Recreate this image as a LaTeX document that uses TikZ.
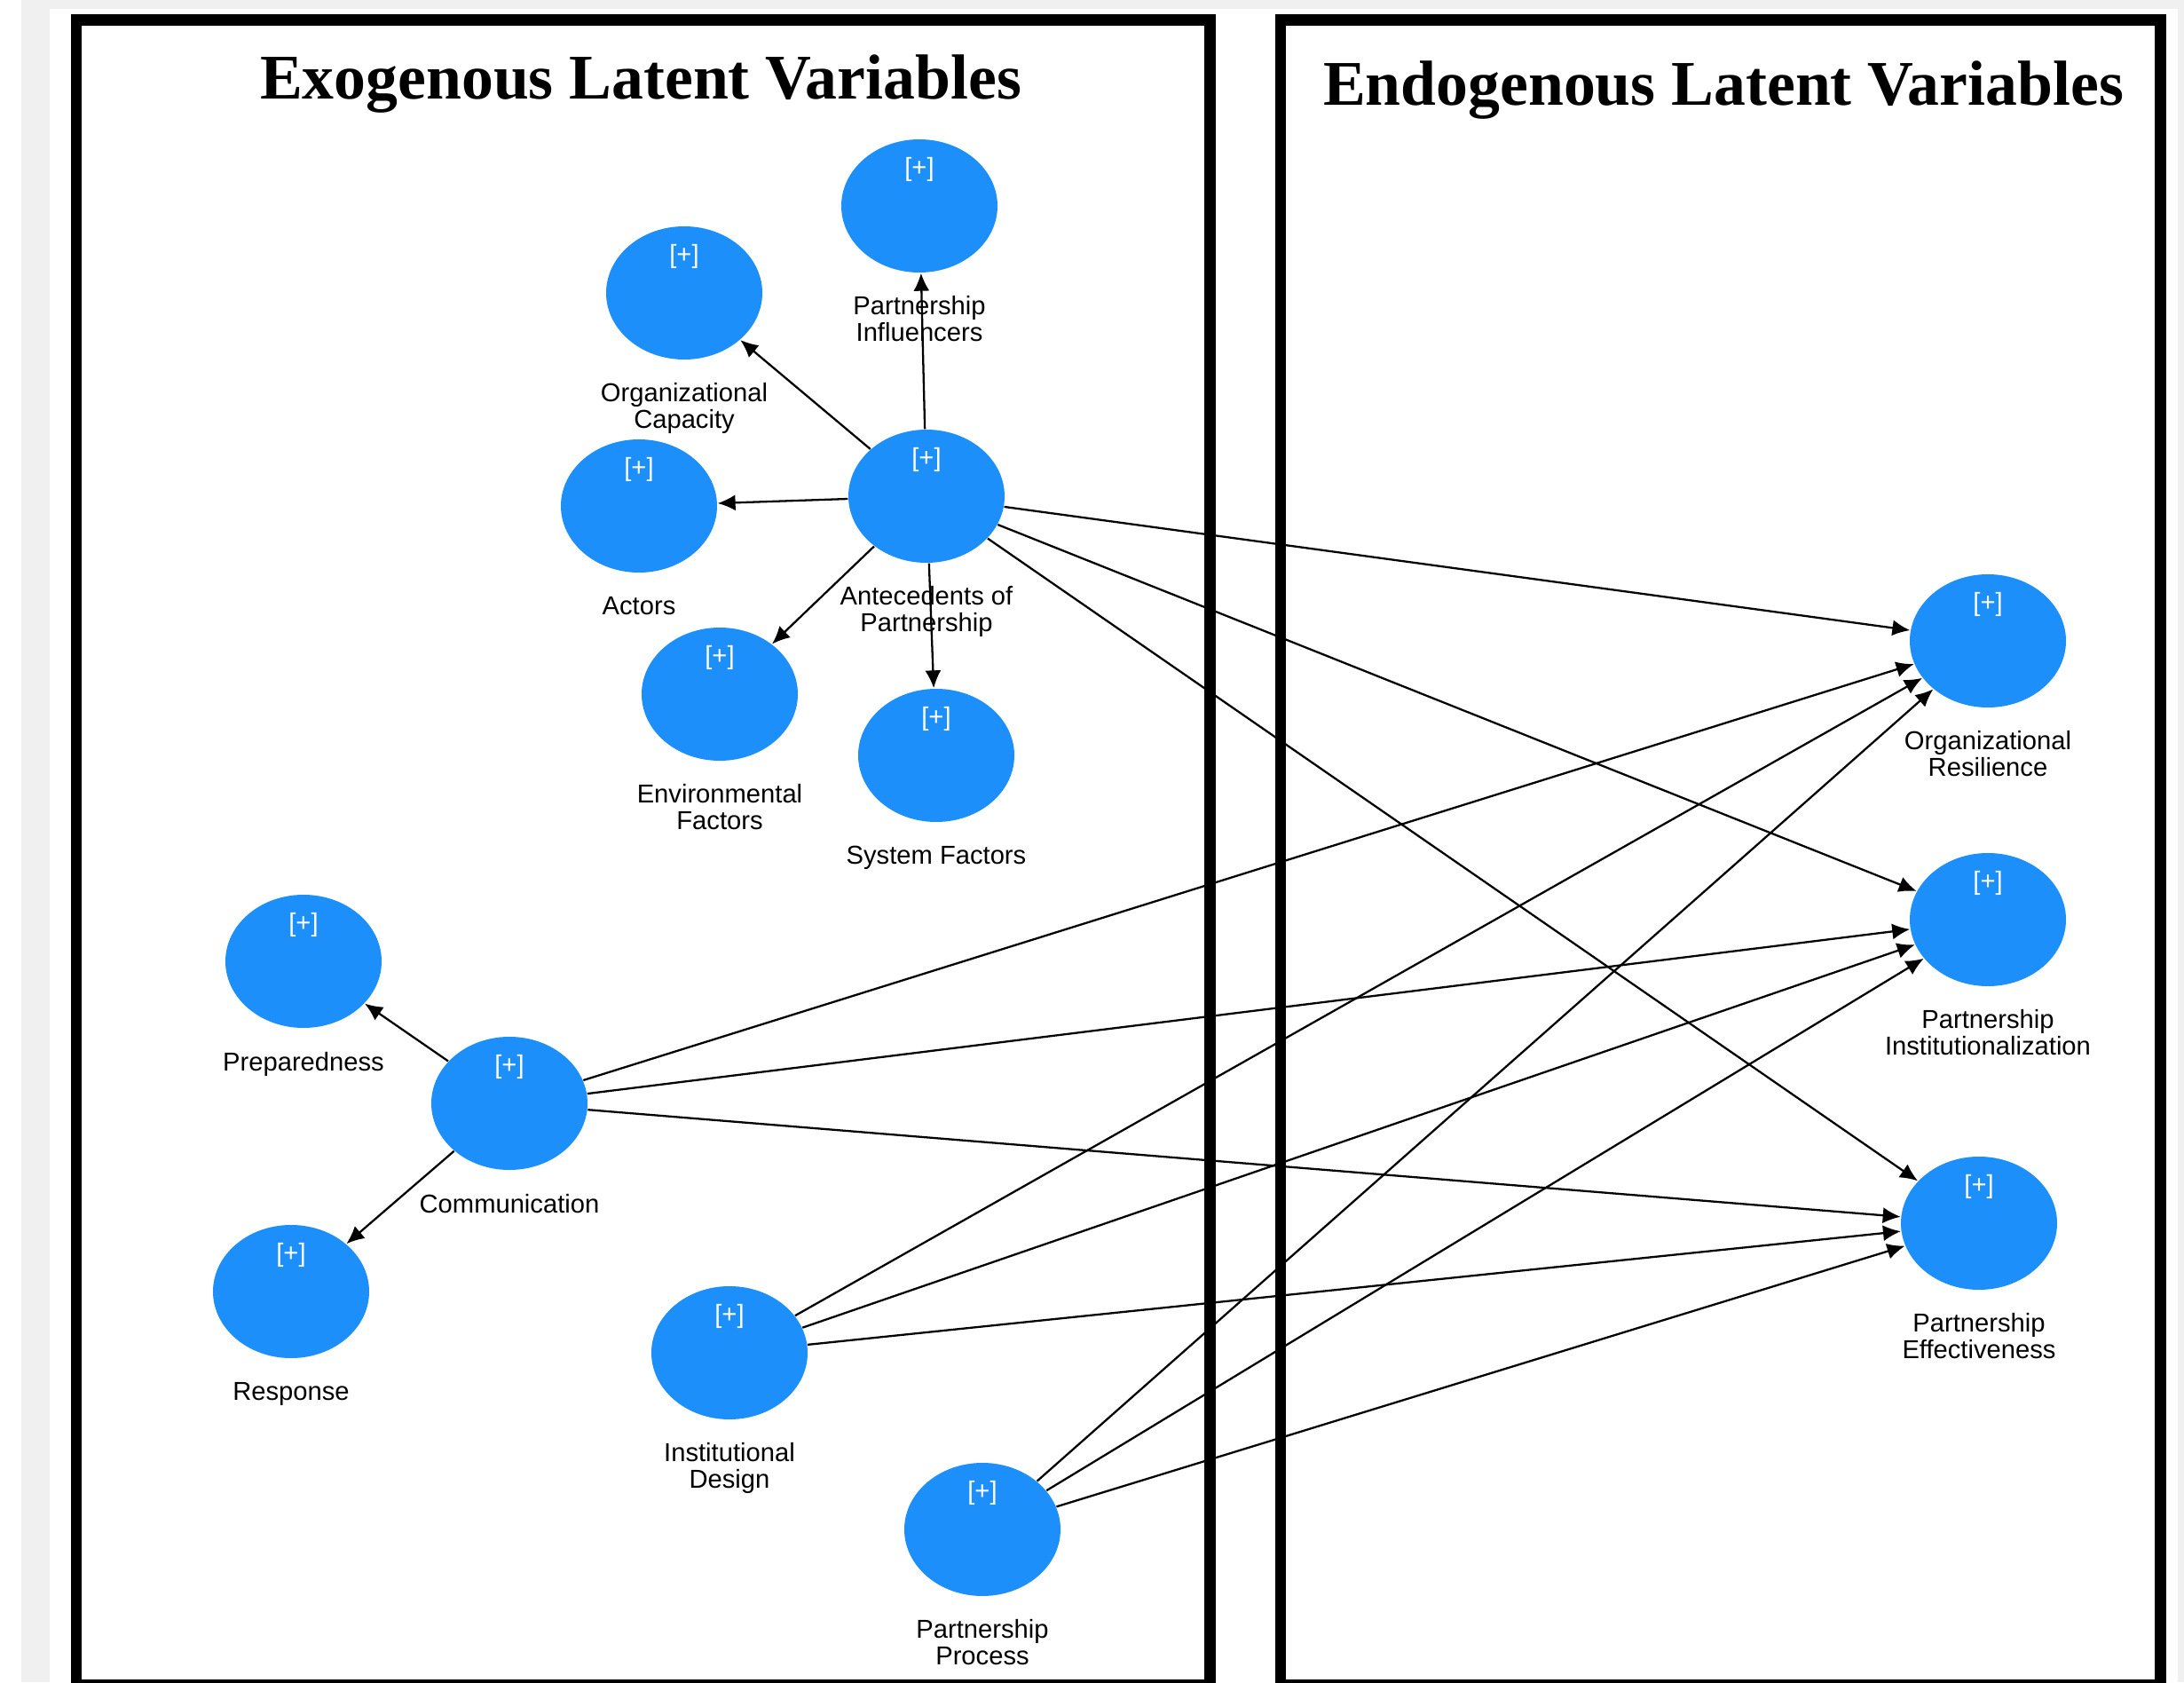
\documentclass[tikz,border=0pt]{standalone}
\usepackage{fontspec}
\setmainfont{Liberation Sans}
\newfontfamily\titlefont{Liberation Serif}
\usetikzlibrary{shapes.geometric,positioning,arrows.meta}
\definecolor{lvblue}{RGB}{28,143,250}
\definecolor{pagegray}{RGB}{240,240,240}
\tikzset{
  latent/.style={ellipse,fill=lvblue,minimum width=1.76cm,minimum height=1.5cm,
    inner sep=0pt,label={[plusmark]north:{[+]}}},
  plusmark/.style={anchor=north,yshift=-0.2cm,inner sep=0pt,text=white,
    font=\fontsize{8.3}{8.3}\selectfont},
  lvname/.style={align=center,inner sep=0pt,font=\fontsize{8.3}{8.5}\selectfont},
  panel/.style={line width=3.55pt},
  paneltitle/.style={anchor=base,inner sep=0pt,
    font=\titlefont\bfseries\fontsize{20.4}{24}\selectfont},
  link/.style={line width=0.65pt,-{Latex[length=2mm,width=1.8mm]}}
}
\begin{document}
\begin{tikzpicture}
  \useasboundingbox (0,0) rectangle (24.61,18.95);
  \fill [white] (0,0) rectangle (24.61,18.95);
  \fill [pagegray] (0.24,0) rectangle (0.56,18.95);
  \fill [pagegray] (0.24,18.85) rectangle (24.61,18.95);
  \fill [pagegray] (24.54,0) rectangle (24.61,18.95);
  % the two panels
  \draw [panel] (0.86,-0.03) rectangle (13.635,18.725);
  \draw [panel] (14.43,-0.03) rectangle (24.345,18.725);
  \node [paneltitle] (exo-title) at (7.22,17.83) {Exogenous Latent Variables};
  \node [paneltitle] (endo-title) at (19.42,17.76) {Endogenous Latent Variables};
  % exogenous
  \node [latent] (pi) at (10.36,16.63) {};
  \node [latent] (oc) at (7.71,15.65) {};
  \node [latent] (ap) at (10.44,13.36) {};
  \node [latent] (act) at (7.20,13.25) {};
  \node [latent] (ef) at (8.11,11.13) {};
  \node [latent] (sf) at (10.55,10.44) {};
  \node [latent] (prep) at (3.42,8.12) {};
  \node [latent] (comm) at (5.74,6.52) {};
  \node [latent] (resp) at (3.28,4.40) {};
  \node [latent] (id) at (8.22,3.71) {};
  \node [latent] (pp) at (11.07,1.72) {};
  % endogenous
  \node [latent] (or) at (22.40,11.73) {};
  \node [latent] (pin) at (22.40,8.59) {};
  \node [latent] (pe) at (22.30,5.17) {};
  % names
  \node [lvname,below=0.25cm of pi] (pi-name) {Partnership\\Influencers};
  \node [lvname,below=0.25cm of oc] (oc-name) {Organizational\\Capacity};
  \node [lvname,below=0.25cm of ap] (ap-name) {Antecedents of\\Partnership};
  \node [lvname,below=0.26cm of act] (act-name) {Actors};
  \node [lvname,below=0.25cm of ef] (ef-name) {Environmental\\Factors};
  \node [lvname,below=0.26cm of sf] (sf-name) {System Factors};
  \node [lvname,below=0.26cm of prep] (prep-name) {Preparedness};
  \node [lvname,below=0.26cm of comm] (comm-name) {Communication};
  \node [lvname,below=0.26cm of resp] (resp-name) {Response};
  \node [lvname,below=0.25cm of id] (id-name) {Institutional\\Design};
  \node [lvname,below=0.25cm of pp] (pp-name) {Partnership\\Process};
  \node [lvname,below=0.25cm of or] (or-name) {Organizational\\Resilience};
  \node [lvname,below=0.25cm of pin] (pin-name) {Partnership\\Institutionalization};
  \node [lvname,below=0.25cm of pe] (pe-name) {Partnership\\Effectiveness};
  % paths
  \draw [link] (ap) -- (pi);
  \draw [link] (ap) -- (oc);
  \draw [link] (ap) -- (act);
  \draw [link] (ap) -- (ef);
  \draw [link] (ap) -- (sf);
  \draw [link] (comm) -- (prep);
  \draw [link] (comm) -- (resp);
  \draw [link] (ap) -- (or);
  \draw [link] (ap) -- (pin);
  \draw [link] (ap) -- (pe);
  \draw [link] (comm) -- (or);
  \draw [link] (comm) -- (pin);
  \draw [link] (comm) -- (pe);
  \draw [link] (id) -- (or);
  \draw [link] (id) -- (pin);
  \draw [link] (id) -- (pe);
  \draw [link] (pp) -- (or);
  \draw [link] (pp) -- (pin);
  \draw [link] (pp) -- (pe);
\end{tikzpicture}
\end{document}
